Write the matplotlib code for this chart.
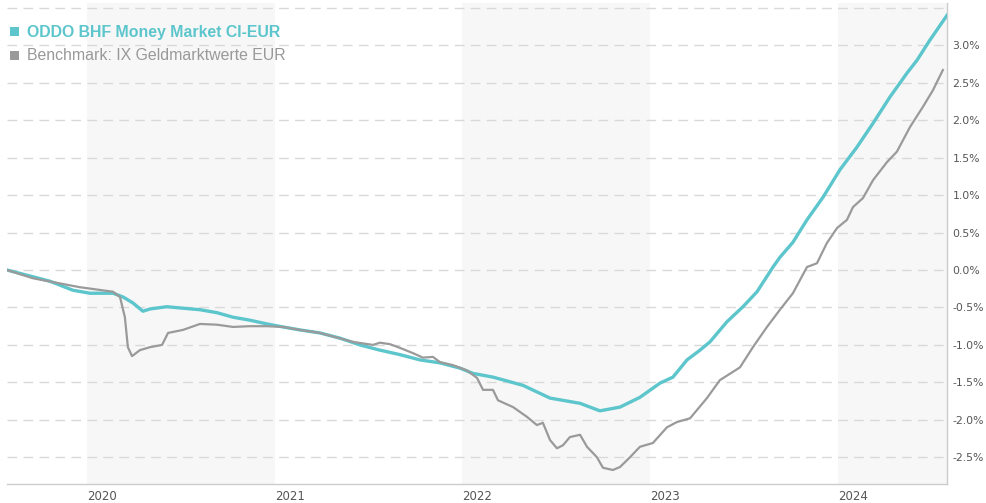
import numpy as np
import matplotlib
matplotlib.use('Agg')
import matplotlib.pyplot as plt
from matplotlib.patches import Rectangle

# time in decimal years, values in percent
fund_t = [2019.574, 2019.712, 2019.803, 2019.925, 2020.016, 2020.139, 2020.192, 2020.245,
          2020.298, 2020.336, 2020.426, 2020.511, 2020.602, 2020.693, 2020.778, 2020.868,
          2020.959, 2021.044, 2021.135, 2021.241, 2021.348, 2021.454, 2021.561, 2021.668,
          2021.774, 2021.881, 2021.987, 2022.056, 2022.163, 2022.323, 2022.467, 2022.627,
          2022.733, 2022.840, 2022.946, 2023.053, 2023.122, 2023.197, 2023.266, 2023.319,
          2023.410, 2023.495, 2023.570, 2023.655, 2023.692, 2023.761, 2023.836, 2023.921,
          2024.012, 2024.102, 2024.188, 2024.278, 2024.369, 2024.422, 2024.491, 2024.582]
fund_v = [0.00, -0.09, -0.15, -0.27, -0.31, -0.31, -0.36, -0.44,
          -0.55, -0.52, -0.49, -0.51, -0.53, -0.57, -0.63, -0.67,
          -0.72, -0.76, -0.80, -0.84, -0.91, -1.00, -1.07, -1.13,
          -1.20, -1.24, -1.31, -1.38, -1.43, -1.54, -1.71, -1.78,
          -1.88, -1.83, -1.70, -1.51, -1.43, -1.20, -1.07, -0.96,
          -0.69, -0.49, -0.29, 0.04, 0.17, 0.37, 0.67, 0.97,
          1.34, 1.64, 1.96, 2.31, 2.63, 2.80, 3.07, 3.40]

bench_t = [2019.574, 2019.712, 2019.963, 2020.139, 2020.176, 2020.202, 2020.218, 2020.240,
           2020.282, 2020.336, 2020.400, 2020.432, 2020.511, 2020.602, 2020.693, 2020.778,
           2020.868, 2020.959, 2021.044, 2021.135, 2021.241, 2021.417, 2021.524, 2021.561,
           2021.614, 2021.668, 2021.737, 2021.790, 2021.843, 2021.881, 2021.950, 2022.024,
           2022.078, 2022.110, 2022.163, 2022.190, 2022.270, 2022.344, 2022.397, 2022.429,
           2022.467, 2022.504, 2022.536, 2022.573, 2022.627, 2022.664, 2022.717, 2022.749,
           2022.802, 2022.840, 2022.893, 2022.946, 2023.015, 2023.090, 2023.143, 2023.213,
           2023.303, 2023.372, 2023.479, 2023.548, 2023.623, 2023.692, 2023.761, 2023.836,
           2023.889, 2023.942, 2023.996, 2024.049, 2024.081, 2024.134, 2024.188, 2024.262,
           2024.315, 2024.385, 2024.454, 2024.507, 2024.560]
bench_v = [0.00, -0.11, -0.23, -0.29, -0.36, -0.63, -1.03, -1.15,
           -1.07, -1.03, -1.00, -0.84, -0.80, -0.72, -0.73, -0.76,
           -0.75, -0.75, -0.76, -0.80, -0.84, -0.96, -1.00, -0.97,
           -0.99, -1.04, -1.11, -1.17, -1.16, -1.23, -1.27, -1.34,
           -1.44, -1.60, -1.60, -1.74, -1.83, -1.96, -2.07, -2.04,
           -2.27, -2.38, -2.34, -2.23, -2.20, -2.36, -2.50, -2.64,
           -2.67, -2.63, -2.50, -2.36, -2.31, -2.10, -2.03, -1.98,
           -1.71, -1.47, -1.30, -1.03, -0.76, -0.53, -0.31, 0.04,
           0.09, 0.36, 0.56, 0.67, 0.84, 0.96, 1.20, 1.44,
           1.58, 1.91, 2.18, 2.40, 2.67]

years = [2020, 2021, 2022, 2023, 2024]
shaded_years = [2020, 2022, 2024]
yticks = [-2.5, -2.0, -1.5, -1.0, -0.5, 0.0, 0.5, 1.0, 1.5, 2.0, 2.5, 3.0, 3.5]

fund_name = 'ODDO BHF Money Market CI-EUR'
bench_name = 'Benchmark: IX Geldmarktwerte EUR'
teal = '#5cc6cc'
grey = '#9a9a9a'

plt.rcParams['font.family'] = ['DejaVu Sans']

fig = plt.figure(figsize=(9.87, 5.03), dpi=100)
W, H = 987, 503
ax = fig.add_axes([7 / W, 19 / H, 940 / W, 481 / H])

x0, x1 = fund_t[0], fund_t[-1]
ax.set_xlim(x0, x1)
ax.set_ylim(-2.857, 3.565)

for yr in shaded_years:
    ax.axvspan(yr, min(yr + 1, x1), color='#f7f7f7', lw=0, zorder=0)

for yv in yticks:
    ax.axhline(yv, color='#d9d9d9', lw=1, ls=(0, (7, 4.5)), zorder=1)

ax.plot(fund_t, fund_v, color=teal, lw=2.4, zorder=3, solid_joinstyle='round')
ax.plot(bench_t, bench_v, color=grey, lw=1.6, zorder=4, solid_joinstyle='round')

ax.yaxis.tick_right()
ax.set_yticks(yticks)
ax.set_yticklabels(['%.1f%%' % v if v < 3.4 else '' for v in yticks])
ax.tick_params(axis='y', length=0, pad=4, labelsize=7.8, labelcolor='#555555')
ax.set_xticks(years)
ax.set_xticklabels([str(y) for y in years], ha='left')
ax.tick_params(axis='x', length=0, pad=4, labelsize=8.5, labelcolor='#555555')

for s in ['left', 'top']:
    ax.spines[s].set_visible(False)
for s in ['right', 'bottom']:
    ax.spines[s].set_color('#cccccc')
    ax.spines[s].set_linewidth(1)

# legend in the upper left
fig.patches.append(Rectangle((10 / W, 1 - 36 / H), 9 / W, 9 / H, transform=fig.transFigure,
                             color=teal, lw=0))
fig.patches.append(Rectangle((10 / W, 1 - 60 / H), 9 / W, 9 / H, transform=fig.transFigure,
                             color='#999999', lw=0))
fig.text(27 / W, 1 - 32 / H, fund_name, color=teal, fontsize=11.4, fontweight='bold',
         family='Liberation Sans', va='center', ha='left')
fig.text(27 / W, 1 - 56 / H, bench_name, color='#999999', fontsize=11.4,
         family='Liberation Sans', va='center', ha='left')

fig.savefig('out.png', dpi=100)
